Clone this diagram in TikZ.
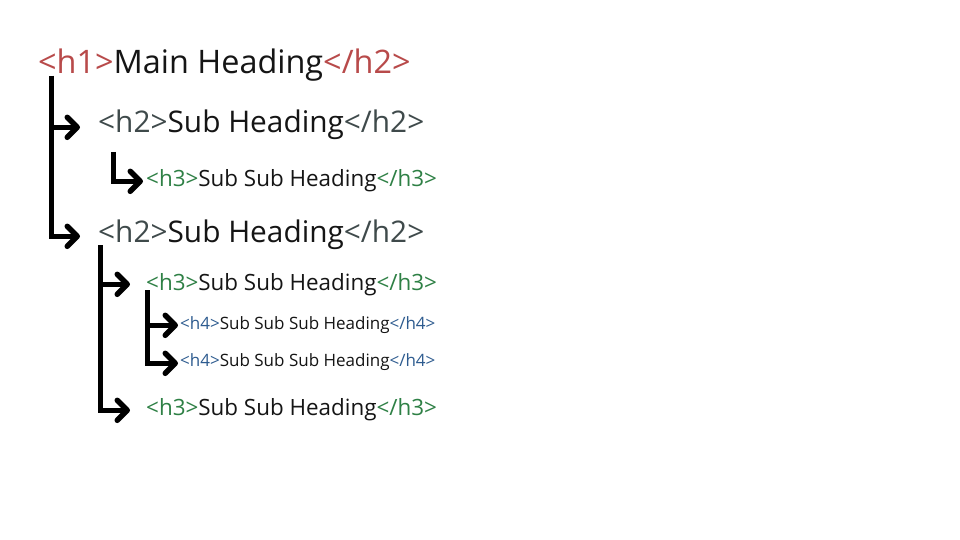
\documentclass[tikz,border=0pt]{standalone}
\usepackage{fontspec}
\setmainfont{Open Sans}
\usetikzlibrary{arrows.meta}
\definecolor{hred}{HTML}{B84A4A}
\definecolor{hgray}{HTML}{3F4A4B}
\definecolor{hgreen}{HTML}{2E8045}
\definecolor{hblue}{HTML}{2D5B8F}
\definecolor{htext}{HTML}{151515}
\tikzset{
  lbl/.style={inner sep=0pt, anchor=base west, text=htext},
  fh1/.style={font=\fontsize{32.4}{38}\selectfont},
  fh2/.style={font=\fontsize{29.8}{35}\selectfont},
  fh3/.style={font=\fontsize{22.4}{27}\selectfont},
  fh4/.style={font=\fontsize{17}{20}\selectfont},
  conn/.style={line width=5pt, line join=miter,
    -{Straight Barb[length=10pt,width=20pt,line width=5.5pt,round]}}
}
\begin{document}
\begin{tikzpicture}[x=1pt,y=-1pt]
\fill[white] (0,0) rectangle (960,540);
\useasboundingbox (0,0) rectangle (960,540);
\node[lbl,fh1] (h1) at (38,74) {\textcolor{hred}{<h1>}Main Heading\textcolor{hred}{</h2>}};
\node[lbl,fh2] (h2a) at (98,133) {\textcolor{hgray}{<h2>}Sub Heading\textcolor{hgray}{</h2>}};
\node[lbl,fh3] (h3a) at (146,186) {\textcolor{hgreen}{<h3>}Sub Sub Heading\textcolor{hgreen}{</h3>}};
\node[lbl,fh2] (h2b) at (98,242) {\textcolor{hgray}{<h2>}Sub Heading\textcolor{hgray}{</h2>}};
\node[lbl,fh3] (h3b) at (146,290) {\textcolor{hgreen}{<h3>}Sub Sub Heading\textcolor{hgreen}{</h3>}};
\node[lbl,fh4] (h4a) at (180,329) {\textcolor{hblue}{<h4>}Sub Sub Sub Heading\textcolor{hblue}{</h4>}};
\node[lbl,fh4] (h4b) at (180,366) {\textcolor{hblue}{<h4>}Sub Sub Sub Heading\textcolor{hblue}{</h4>}};
\node[lbl,fh3] (h3c) at (146,415) {\textcolor{hgreen}{<h3>}Sub Sub Heading\textcolor{hgreen}{</h3>}};
% h1 -> h2
\draw[conn] ([xshift=13pt,yshift=-2pt]h1.base west) |- ([xshift=-18pt,yshift=3pt]h2a.mid west);
\draw[conn] ([xshift=13pt,yshift=-2pt]h1.base west) |- ([xshift=-18pt,yshift=3pt]h2b.mid west);
% h2a -> h3a
\draw[conn] ([xshift=15pt,yshift=-19pt]h2a.base west) |- ([xshift=-3pt,yshift=2pt]h3a.mid west);
% h2b -> h3b, h3c
\draw[conn] ([xshift=2pt,yshift=-3pt]h2b.base west) |- ([xshift=-16pt,yshift=3pt]h3b.mid west);
\draw[conn] ([xshift=2pt,yshift=-3pt]h2b.base west) |- ([xshift=-16pt,yshift=2pt]h3c.mid west);
% h3b -> h4
\draw[conn] ([xshift=1pt,yshift=0pt]h3b.base west) |- ([xshift=-2pt,yshift=1pt]h4a.mid west);
\draw[conn] ([xshift=1pt,yshift=0pt]h3b.base west) |- ([xshift=-2pt,yshift=0pt]h4b.mid west);
\end{tikzpicture}
\end{document}
